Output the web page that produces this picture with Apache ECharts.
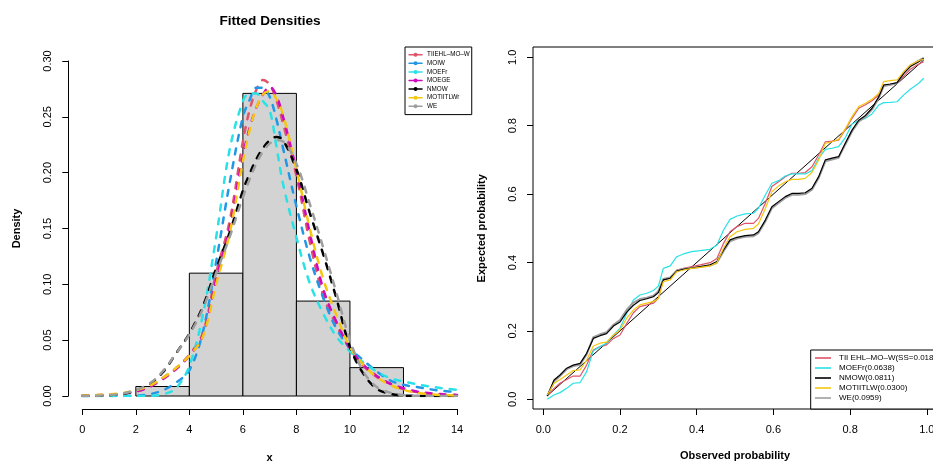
<!DOCTYPE html>
<html>
<head>
<meta charset="utf-8">
<title>Fitted Densities</title>
<script src="https://cdn.jsdelivr.net/npm/echarts@6.0.0/dist/echarts.min.js"></script>
<style>
  html, body { margin: 0; padding: 0; background: #fff; }
  #chart { width: 933px; height: 462px; }
</style>
</head>
<body>
<div id="chart"></div>
<script>
// histogram bins (density scale)
var binStart = [2, 4, 6, 8, 10]
var binEnd = [4, 6, 8, 10, 12]
var binDensity = [0.0085, 0.110, 0.271, 0.085, 0.0254]

// fitted density curves
var densX = [0, 0.5, 1, 1.5, 2, 2.5, 3, 3.5, 4, 4.5, 5, 5.5, 6, 6.25, 6.5, 6.75, 7, 7.25, 7.5, 8, 8.5, 9, 9.5, 10, 10.5, 11, 11.5, 12, 12.5, 13, 13.5, 14]
var dTIIEHL = [0.0003, 0.0006, 0.0012, 0.0022, 0.004, 0.008, 0.016, 0.025, 0.037, 0.056, 0.11, 0.156, 0.228, 0.256, 0.274, 0.283, 0.279, 0.265, 0.244, 0.197, 0.138, 0.09, 0.063, 0.042, 0.027, 0.017, 0.011, 0.006, 0.0035, 0.002, 0.0012, 0.0007]
var dMOIW = [0, 0, 0, 0.0001, 0.0004, 0.0015, 0.005, 0.012, 0.023, 0.057, 0.12, 0.19, 0.25, 0.265, 0.276, 0.276, 0.268, 0.248, 0.222, 0.17, 0.124, 0.088, 0.06, 0.043, 0.032, 0.022, 0.014, 0.01, 0.008, 0.006, 0.0045, 0.0035]
var dMOEFr = [0, 0, 0, 0, 0, 0.0002, 0.0015, 0.007, 0.027, 0.072, 0.142, 0.22, 0.264, 0.271, 0.271, 0.264, 0.256, 0.224, 0.19, 0.142, 0.101, 0.074, 0.053, 0.040, 0.030, 0.022, 0.016, 0.013, 0.0105, 0.0085, 0.0068, 0.0055]
var dMOEGE = [0.0003, 0.0006, 0.0012, 0.0022, 0.004, 0.008, 0.015, 0.024, 0.036, 0.054, 0.104, 0.150, 0.215, 0.240, 0.258, 0.270, 0.277, 0.269, 0.250, 0.202, 0.146, 0.096, 0.066, 0.043, 0.028, 0.018, 0.011, 0.007, 0.004, 0.0025, 0.0015, 0.001]
var dNMOW = [0, 0.0002, 0.0007, 0.002, 0.005, 0.0105, 0.021, 0.038, 0.056, 0.08, 0.114, 0.146, 0.184, 0.199, 0.212, 0.222, 0.229, 0.232, 0.229, 0.203, 0.164, 0.127, 0.087, 0.044, 0.02, 0.0065, 0.002, 0.0005, 0.0001, 0, 0, 0]
var dMOTIITLWr = [0.0004, 0.0008, 0.0015, 0.0028, 0.005, 0.009, 0.016, 0.025, 0.036, 0.053, 0.100, 0.145, 0.210, 0.238, 0.258, 0.270, 0.273, 0.266, 0.252, 0.203, 0.150, 0.105, 0.072, 0.044, 0.028, 0.017, 0.010, 0.0055, 0.003, 0.0015, 0.0008, 0.0004]
var dWE = [0, 0.0002, 0.0008, 0.0022, 0.0055, 0.011, 0.022, 0.038, 0.055, 0.078, 0.11, 0.142, 0.178, 0.194, 0.208, 0.219, 0.226, 0.229, 0.228, 0.208, 0.172, 0.133, 0.092, 0.05, 0.022, 0.008, 0.003, 0.0008, 0.0002, 0, 0, 0]

// P-P plot
var ppObs = [0.0104, 0.028, 0.0435, 0.061, 0.078, 0.096, 0.113, 0.1305, 0.148, 0.165, 0.183, 0.200, 0.2176, 0.235, 0.252, 0.270, 0.287, 0.300, 0.313, 0.331, 0.348, 0.3655, 0.387, 0.409, 0.435, 0.4526, 0.470, 0.487, 0.505, 0.5265, 0.548, 0.561, 0.579, 0.596, 0.6136, 0.631, 0.648, 0.666, 0.683, 0.7006, 0.718, 0.7354, 0.753, 0.770, 0.788, 0.805, 0.8225, 0.840, 0.857, 0.875, 0.8877, 0.905, 0.9225, 0.940, 0.957, 0.979, 0.992]
var ppTIIEHL = [0.0097, 0.032, 0.047, 0.058, 0.068, 0.068, 0.100, 0.144, 0.154, 0.159, 0.178, 0.188, 0.222, 0.253, 0.271, 0.276, 0.281, 0.295, 0.349, 0.354, 0.378, 0.383, 0.388, 0.393, 0.3996, 0.412, 0.456, 0.490, 0.505, 0.5146, 0.5146, 0.529, 0.573, 0.622, 0.636, 0.651, 0.661, 0.661, 0.663, 0.680, 0.7145, 0.753, 0.755, 0.758, 0.789, 0.8216, 0.851, 0.861, 0.873, 0.890, 0.919, 0.921, 0.924, 0.945, 0.965, 0.9805, 0.987]
var ppMOEFr = [0.0, 0.0127, 0.0195, 0.032, 0.047, 0.049, 0.081, 0.142, 0.154, 0.164, 0.188, 0.2076, 0.2515, 0.2904, 0.305, 0.310, 0.318, 0.331, 0.383, 0.390, 0.417, 0.425, 0.432, 0.4347, 0.4386, 0.451, 0.495, 0.526, 0.536, 0.542, 0.544, 0.5585, 0.5975, 0.6316, 0.6394, 0.653, 0.659, 0.659, 0.659, 0.6686, 0.7047, 0.731, 0.734, 0.739, 0.766, 0.805, 0.815, 0.8216, 0.8343, 0.8606, 0.8674, 0.8684, 0.870, 0.890, 0.9064, 0.924, 0.9386]
var ppNMOW = [0.0097, 0.0565, 0.071, 0.091, 0.100, 0.105, 0.1345, 0.178, 0.186, 0.192, 0.214, 0.226, 0.255, 0.275, 0.289, 0.294, 0.300, 0.312, 0.349, 0.354, 0.375, 0.380, 0.384, 0.388, 0.393, 0.4025, 0.437, 0.466, 0.4737, 0.4786, 0.4805, 0.490, 0.524, 0.563, 0.578, 0.5926, 0.602, 0.602, 0.604, 0.617, 0.651, 0.700, 0.705, 0.7095, 0.750, 0.787, 0.816, 0.830, 0.851, 0.885, 0.919, 0.922, 0.926, 0.953, 0.973, 0.987, 0.997]
var ppMOTIITLW = [0.0127, 0.047, 0.058, 0.071, 0.084, 0.086, 0.115, 0.156, 0.164, 0.167, 0.188, 0.203, 0.237, 0.261, 0.276, 0.281, 0.2856, 0.295, 0.344, 0.349, 0.373, 0.378, 0.383, 0.386, 0.390, 0.3996, 0.4415, 0.4756, 0.490, 0.497, 0.500, 0.5127, 0.558, 0.607, 0.624, 0.636, 0.643, 0.643, 0.646, 0.663, 0.700, 0.7485, 0.753, 0.760, 0.792, 0.8265, 0.856, 0.8655, 0.877, 0.895, 0.929, 0.932, 0.934, 0.958, 0.9776, 0.990, 0.995]
var ppWE = [0.0097, 0.052, 0.068, 0.088, 0.097, 0.101, 0.131, 0.182, 0.190, 0.196, 0.218, 0.232, 0.262, 0.283, 0.293, 0.297, 0.303, 0.316, 0.352, 0.356, 0.376, 0.381, 0.384, 0.387, 0.391, 0.399, 0.433, 0.462, 0.470, 0.475, 0.477, 0.486, 0.520, 0.559, 0.574, 0.589, 0.598, 0.598, 0.600, 0.613, 0.647, 0.696, 0.701, 0.706, 0.746, 0.783, 0.812, 0.826, 0.847, 0.881, 0.916, 0.920, 0.924, 0.955, 0.976, 0.990, 0.998]
var diagX = [0.0104, 0.992]

var font = 'Liberation Sans, Arial, Helvetica, sans-serif'
var chart = echarts.init(document.getElementById('chart'), null, { renderer: 'canvas' })

function pairs(xs, ys) {
  return xs.map(function (x, i) { return [x, ys[i]] })
}

var histData = binStart.map(function (s, i) { return [s, binEnd[i], binDensity[i]] })

function densLine(name, color, ys) {
  return {
    name: name,
    type: 'line',
    xAxisIndex: 0,
    yAxisIndex: 0,
    data: pairs(densX, ys),
    smooth: 0.35,
    symbol: 'circle',
    symbolSize: 5,
    showSymbol: false,
    itemStyle: { color: color },
    lineStyle: { color: color, width: 2.5, type: [6, 8], cap: 'round' },
    animation: false
  }
}

function ppLine(name, color, ys, w) {
  return {
    name: name,
    type: 'line',
    xAxisIndex: 1,
    yAxisIndex: 1,
    data: pairs(ppObs, ys),
    symbol: 'none',
    itemStyle: { color: color },
    lineStyle: { color: color, width: w },
    animation: false
  }
}

var tickStyle = { length: 6, lineStyle: { color: '#000', width: 1 } }
var nameStyle = { fontWeight: 'bold', fontSize: 11, color: '#000', fontFamily: font }

chart.setOption({
  animation: false,
  textStyle: { fontFamily: font, color: '#000' },
  title: {
    text: 'Fitted Densities',
    left: 265,
    top: 9,
    textAlign: 'center',
    textStyle: { fontSize: 13.6, fontWeight: 'bold', color: '#000', fontFamily: font }
  },
  legend: [{
    orient: 'vertical',
    left: 405,
    top: 47,
    data: ['TIIEHL–MO–W', 'MOIW', 'MOEFr', 'MOEGE', 'NMOW', 'MOTIITLWr', 'WE'],
    itemWidth: 13,
    itemHeight: 5,
    itemGap: 0.6,
    padding: [3.7, 2, 4.3, 3.3],
    borderColor: '#000',
    borderWidth: 1,
    backgroundColor: '#fff',
    selectedMode: false,
    lineStyle: { type: 'solid', width: 1.5 },
    textStyle: { fontSize: 6.3, lineHeight: 8, color: '#000', fontFamily: font }
  }, {
    orient: 'vertical',
    left: 810.7,
    top: 350,
    data: ['TII EHL–MO–W(SS=0.018)', 'MOEFr(0.0638)', 'NMOW(0.0811)', 'MOTIITLW(0.0300)', 'WE(0.0959)'],
    icon: 'rect',
    itemWidth: 16,
    itemHeight: 1.6,
    itemGap: 0,
    padding: [3, 10, 6, 4.3],
    borderColor: '#000',
    borderWidth: 1,
    backgroundColor: '#fff',
    selectedMode: false,
    textStyle: { fontSize: 8, lineHeight: 10, color: '#000', fontFamily: font, padding: [0, 0, 0, 3] }
  }],
  grid: [
    { left: 82.3, top: 61, width: 374.7, height: 335, outerBoundsMode: 'none', containLabel: false },
    { left: 543.3, top: 57.3, width: 383.5, height: 342, outerBoundsMode: 'none', containLabel: false },
    { left: 533, top: 47, width: 405, height: 362, show: true, borderColor: '#000', borderWidth: 1, backgroundColor: 'transparent', outerBoundsMode: 'none', containLabel: false }
  ],
  xAxis: [
    {
      gridIndex: 0, type: 'value', min: 0, max: 14, interval: 2, offset: 13,
      axisLine: { onZero: false, lineStyle: { color: '#000', width: 1 } },
      axisTick: tickStyle,
      splitLine: { show: false },
      axisLabel: { color: '#000', fontSize: 11, margin: 15, fontFamily: font },
      name: 'x', nameLocation: 'middle', nameGap: 43, nameTextStyle: nameStyle
    },
    {
      gridIndex: 1, type: 'value', min: 0, max: 1, interval: 0.2, offset: 9.7,
      axisLine: { show: false, onZero: false },
      axisTick: tickStyle,
      splitLine: { show: false },
      axisLabel: { color: '#000', fontSize: 11, margin: 15, fontFamily: font, formatter: function (v) { return v.toFixed(1) } },
      name: 'Observed probability', nameLocation: 'middle', nameGap: 41.5, nameTextStyle: nameStyle
    },
    { gridIndex: 2, type: 'value', min: 0, max: 1, show: false }
  ],
  yAxis: [
    {
      gridIndex: 0, type: 'value', min: 0, max: 0.3, interval: 0.05, offset: 14,
      axisLine: { show: true, onZero: false, lineStyle: { color: '#000', width: 1 } },
      axisTick: tickStyle,
      splitLine: { show: false },
      axisLabel: { color: '#000', fontSize: 11, margin: 15, rotate: 90, fontFamily: font, formatter: function (v) { return v.toFixed(2) } },
      name: 'Density', nameLocation: 'middle', nameGap: 46, nameTextStyle: nameStyle
    },
    {
      gridIndex: 1, type: 'value', min: 0, max: 1, interval: 0.2, offset: 10.3,
      axisLine: { show: false, onZero: false },
      axisTick: tickStyle,
      splitLine: { show: false },
      axisLabel: { color: '#000', fontSize: 11, margin: 15, rotate: 90, fontFamily: font, formatter: function (v) { return v.toFixed(1) } },
      name: 'Expected probability', nameLocation: 'middle', nameGap: 45.5, nameTextStyle: nameStyle
    },
    { gridIndex: 2, type: 'value', min: 0, max: 1, show: false }
  ],
  series: [
    {
      type: 'custom',
      xAxisIndex: 0,
      yAxisIndex: 0,
      data: histData,
      encode: { x: [0, 1], y: 2 },
      silent: true,
      renderItem: function (params, api) {
        var p0 = api.coord([api.value(0), 0])
        var p1 = api.coord([api.value(1), api.value(2)])
        return {
          type: 'rect',
          shape: { x: p0[0], y: p1[1], width: p1[0] - p0[0], height: p0[1] - p1[1] },
          style: { fill: '#D3D3D3', stroke: '#000', lineWidth: 1 }
        }
      }
    },
    densLine('TIIEHL–MO–W', '#DF536B', dTIIEHL),
    densLine('MOIW', '#2297E6', dMOIW),
    densLine('MOEFr', '#28E2E5', dMOEFr),
    densLine('MOEGE', '#CD0BBC', dMOEGE),
    densLine('NMOW', '#000000', dNMOW),
    densLine('MOTIITLWr', '#F5C710', dMOTIITLWr),
    densLine('WE', '#9E9E9E', dWE),
    {
      type: 'line',
      xAxisIndex: 1,
      yAxisIndex: 1,
      data: pairs(diagX, diagX),
      symbol: 'none',
      lineStyle: { color: '#000', width: 1 },
      silent: true
    },
    ppLine('TII EHL–MO–W(SS=0.018)', '#DF536B', ppTIIEHL, 1.2),
    ppLine('MOEFr(0.0638)', '#28E2E5', ppMOEFr, 1.2),
    ppLine('WE(0.0959)', '#9E9E9E', ppWE, 2),
    ppLine('NMOW(0.0811)', '#000000', ppNMOW, 1.2),
    ppLine('MOTIITLW(0.0300)', '#F5C710', ppMOTIITLW, 1.2)
  ]
})
</script>
</body>
</html>
